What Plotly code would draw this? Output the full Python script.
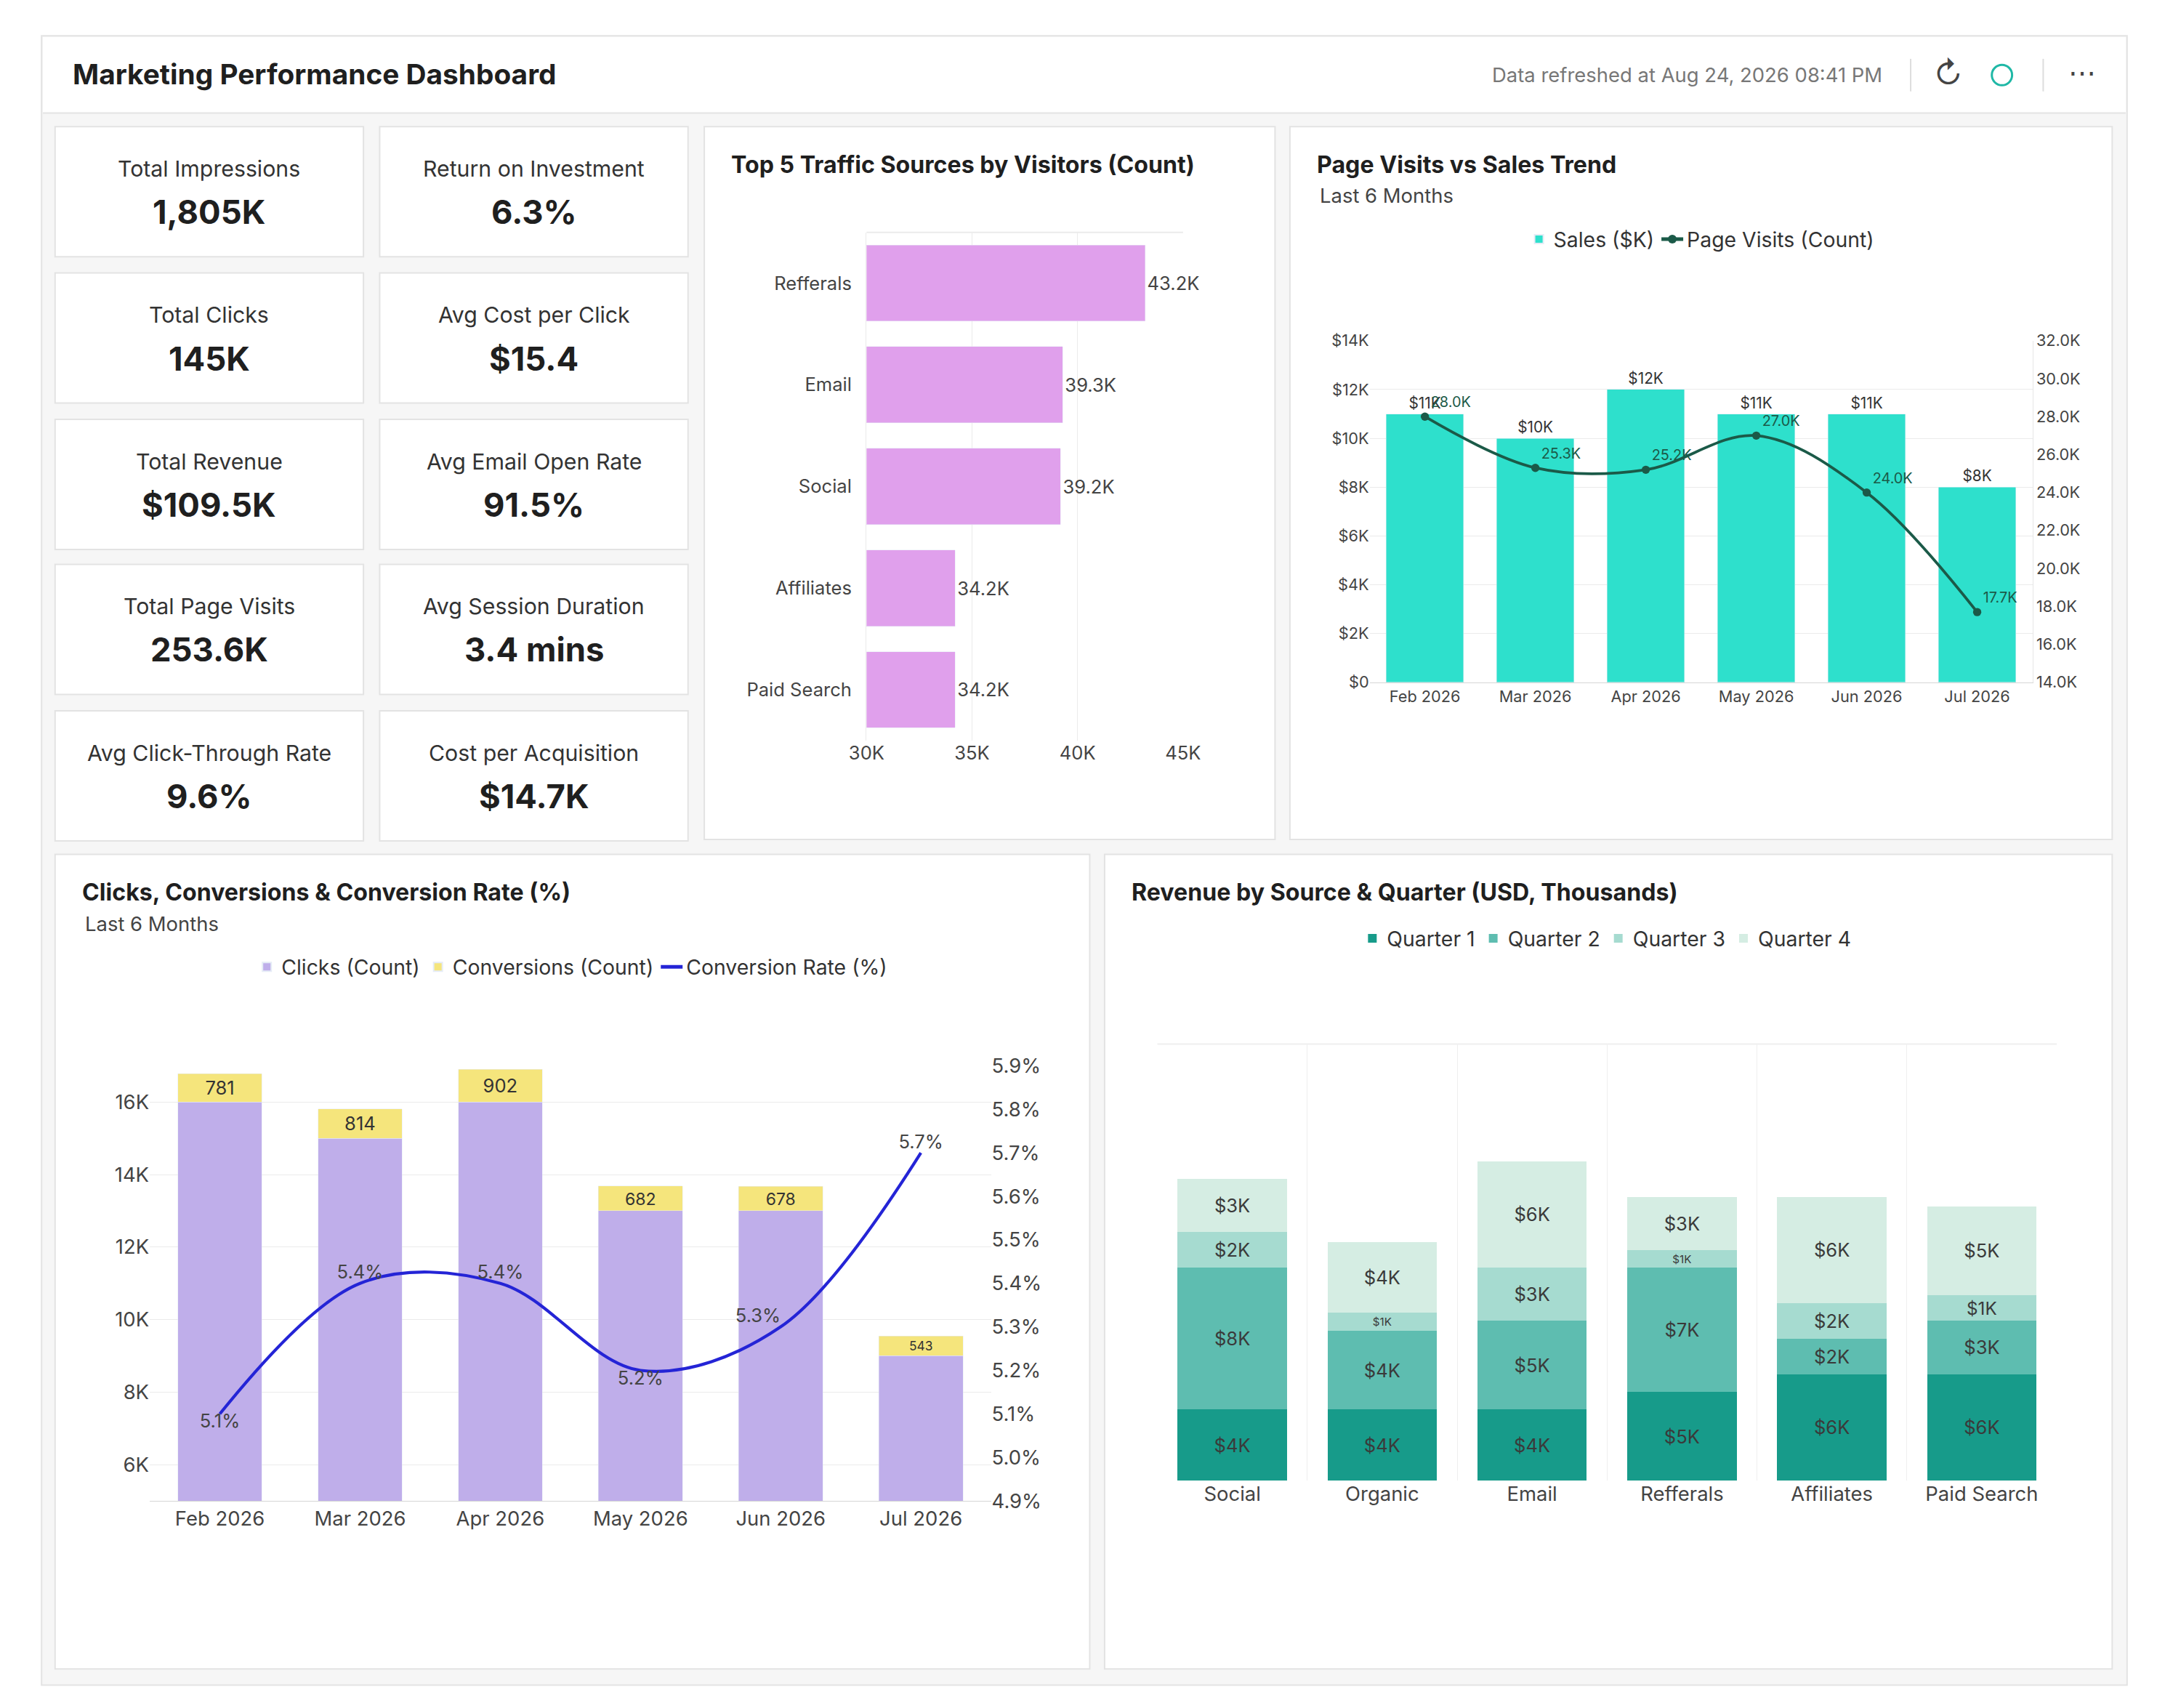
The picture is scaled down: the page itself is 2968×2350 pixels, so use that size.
import plotly.graph_objects as go

W, H = 2968, 2350
S = W / 1568.0
def X(px): return px / 1568.0
def Y(py): return 1 - py / 1242.0
def F(sz): return sz * S

FONT = "Inter"
DARK = "#1f1f1f"
GRAY = "#555555"

# ---------------- data ----------------
kpi_labels = ["Total Impressions", "Return on Investment", "Total Clicks", "Avg Cost per Click",
              "Total Revenue", "Avg Email Open Rate", "Total Page Visits", "Avg Session Duration",
              "Avg Click-Through Rate", "Cost per Acquisition"]
kpi_values = ["1,805K", "6.3%", "145K", "$15.4", "$109.5K", "91.5%", "253.6K", "3.4 mins", "9.6%", "$14.7K"]

traffic_sources = ["Refferals", "Email", "Social", "Affiliates", "Paid Search"]
traffic_visitors = [43.2, 39.3, 39.2, 34.2, 34.2]

months = ["Feb 2026", "Mar 2026", "Apr 2026", "May 2026", "Jun 2026", "Jul 2026"]
sales_k = [11, 10, 12, 11, 11, 8]
page_visits_k = [28.0, 25.3, 25.2, 27.0, 24.0, 17.7]

clicks_k = [16.0, 15.0, 16.0, 13.0, 13.0, 9.0]
clicks_labels = ["16K", "15K", "16K", "13K", "13K", ""]
conversions = [781, 814, 902, 682, 678, 543]
conv_rate = [5.1, 5.4, 5.4, 5.2, 5.3, 5.7]

rev_sources = ["Social", "Organic", "Email", "Refferals", "Affiliates", "Paid Search"]
rev_q1 = [4.0, 4.0, 4.0, 5.0, 6.0, 6.0]
rev_q2 = [8.0, 4.45, 5.0, 7.0, 2.0, 3.0]
rev_q3 = [2.0, 1.0, 3.0, 1.0, 2.0, 1.45]
rev_q4 = [3.0, 4.0, 6.0, 3.0, 6.0, 5.0]
quarters = ["Quarter 1", "Quarter 2", "Quarter 3", "Quarter 4"]
q_colors = ["#179b8a", "#5ebdb0", "#a6dbd0", "#d5ede3"]

fig = go.Figure()
shapes, ann = [], []

def card(x0, y0, x1, y1, fill="white"):
    shapes.append(dict(type="rect", xref="paper", yref="paper", x0=X(x0), x1=X(x1), y0=Y(y1), y1=Y(y0),
                       line=dict(color="#e3e3e3", width=2), fillcolor=fill, layer="below"))

def text(x, y, s, size, color=DARK, bold=False, xanchor="left", yanchor="middle"):
    ann.append(dict(xref="paper", yref="paper", x=X(x), y=Y(y), text=("<b>%s</b>" % s) if bold else s,
                    showarrow=False, xanchor=xanchor, yanchor=yanchor,
                    font=dict(family=FONT, size=F(size), color=color)))

# outer container + header
card(13, 13, 1555, 1230, fill="#f6f6f6")
shapes.append(dict(type="rect", xref="paper", yref="paper", x0=X(14), x1=X(1554), y0=Y(70), y1=Y(14),
                   line=dict(width=0), fillcolor="white", layer="below"))
shapes.append(dict(type="line", xref="paper", yref="paper", x0=X(14), x1=X(1554), y0=Y(70), y1=Y(70),
                   line=dict(color="#e3e3e3", width=2), layer="below"))
text(35, 41, "Marketing Performance Dashboard", 20.5, bold=True)
text(1375, 42, "Data refreshed at Aug 24, 2026 08:41 PM", 14.5, color="#777777", xanchor="right")
for xv in (1395, 1493):
    shapes.append(dict(type="line", xref="paper", yref="paper", x0=X(xv), x1=X(xv), y0=Y(30), y1=Y(54),
                       line=dict(color="#dddddd", width=2)))
text(1423, 41, "↻", 22, color="#444444", xanchor="center")
shapes.append(dict(type="circle", xref="paper", yref="paper", x0=X(1455), x1=X(1470), y0=Y(49.5), y1=Y(34.5),
                   line=dict(color="#1fb8a6", width=3)))
text(1522, 40, "⋯", 20, color="#444444", xanchor="center")

# KPI cards
cols = [(23, 251), (263, 491)]
rows = [80, 188, 296, 403, 511]
for i, (lab, val) in enumerate(zip(kpi_labels, kpi_values)):
    r, c = divmod(i, 2)
    x0, x1 = cols[c]
    y0 = rows[r]
    card(x0, y0, x1, y0 + 96)
    cx = (x0 + x1) / 2
    text(cx, y0 + 31, lab, 16, color="#333333", xanchor="center")
    text(cx, y0 + 63, val, 24, bold=True, xanchor="center")

# chart cards
card(503, 80, 925, 606)
card(936, 80, 1544, 606)
card(23, 617, 788, 1218)
card(799, 617, 1544, 1218)
text(522, 108, "Top 5 Traffic Sources by Visitors (Count)", 17, bold=True)
text(955, 108, "Page Visits vs Sales Trend", 17, bold=True)
text(957, 131, "Last 6 Months", 14.5, color="#444444")
text(42, 645, "Clicks, Conversions &amp; Conversion Rate (%)", 17, bold=True)
text(44, 668, "Last 6 Months", 14.5, color="#444444")
text(818, 645, "Revenue by Source &amp; Quarter (USD, Thousands)", 17, bold=True)

# ---------- Traffic sources ----------
fig.add_trace(go.Bar(y=traffic_sources, x=traffic_visitors, orientation="h", base=0,
                     marker=dict(color="#e0a0ec"), width=0.75,
                     text=[f"{v}K" for v in traffic_visitors], textposition="outside",
                     textfont=dict(family=FONT, size=F(13.5), color="#444444"),
                     cliponaxis=False, showlegend=False, xaxis="x", yaxis="y"))

# ---------- Page visits vs sales ----------
fig.add_trace(go.Bar(x=months, y=sales_k, name="Sales ($K)", marker=dict(color="#2ee0cc"), width=0.7,
                     text=[f"${v}K" for v in sales_k], textposition="outside", cliponaxis=False,
                     textfont=dict(family=FONT, size=F(11), color="#333333"),
                     xaxis="x2", yaxis="y2", legend="legend"))
fig.add_trace(go.Scatter(x=months, y=page_visits_k, name="Page Visits (Count)", mode="lines+markers+text",
                         line=dict(color="#1b5a48", width=F(2), shape="spline"),
                         marker=dict(size=F(6), color="#1b5a48"),
                         text=[f"{v:.1f}K" for v in page_visits_k], textposition="top right",
                         textfont=dict(family=FONT, size=F(10.5), color="#1b5a48"),
                         xaxis="x2", yaxis="y3", legend="legend"))

# ---------- Clicks / conversions ----------
fig.add_trace(go.Bar(x=months, y=clicks_k, name="Clicks (Count)", marker=dict(color="#bfaeea"), width=0.6,
                     text=clicks_labels, textposition="inside", insidetextanchor="start",
                     textfont=dict(family=FONT, size=F(13.5), color="#333333"),
                     xaxis="x3", yaxis="y4", legend="legend2"))
fig.add_trace(go.Bar(x=months, y=[c / 1000 for c in conversions], name="Conversions (Count)",
                     marker=dict(color="#f5e57c"), width=0.6,
                     text=[str(c) for c in conversions], textposition="inside", insidetextanchor="middle",
                     textfont=dict(family=FONT, size=F(13.5), color="#333333"),
                     xaxis="x3", yaxis="y4", legend="legend2"))
fig.add_trace(go.Scatter(x=months, y=conv_rate, name="Conversion Rate (%)", mode="lines+text",
                         line=dict(color="#2424d6", width=F(2.2), shape="spline"),
                         text=[f"{v}%" for v in conv_rate],
                         textposition=["bottom center", "top center", "top center", "bottom center",
                                       "top left", "top center"],
                         textfont=dict(family=FONT, size=F(13.5), color="#444444"),
                         cliponaxis=False, xaxis="x3", yaxis="y5", legend="legend2"))

# ---------- Revenue stacked ----------
for qname, col, vals in zip(quarters, q_colors, [rev_q1, rev_q2, rev_q3, rev_q4]):
    fig.add_trace(go.Bar(x=rev_sources, y=vals, name=qname, marker=dict(color=col, line=dict(width=0)),
                         width=0.73, text=[f"${round(v)}K" for v in vals], textposition="inside",
                         insidetextanchor="middle", textangle=0,
                         textfont=dict(family=FONT, size=F(13.5), color="#3a3a3a"),
                         xaxis="x4", yaxis="y6", legend="legend3"))

tick = lambda s, c="#444444": dict(family=FONT, size=F(s), color=c)
grid = "#ebebeb"

def leg(xc, yc):
    return dict(x=X(xc), y=Y(yc), xanchor="center", yanchor="middle", orientation="h",
                font=dict(family=FONT, size=F(15), color="#333333"), bgcolor="rgba(0,0,0,0)",
                itemsizing="constant", traceorder="normal")

fig.update_layout(
    width=W, height=H, autosize=False, margin=dict(l=0, r=0, t=0, b=0),
    paper_bgcolor="white", plot_bgcolor="rgba(0,0,0,0)", barmode="stack",
    font=dict(family=FONT), shapes=shapes, annotations=ann,
    # traffic
    xaxis=dict(domain=[X(623), X(857)], range=[30, 45], tickvals=[30, 35, 40, 45],
               ticktext=["30K", "35K", "40K", "45K"], showgrid=True, gridcolor=grid, zeroline=False,
               tickfont=tick(13.5), anchor="y", showline=False, ticklen=0),
    yaxis=dict(domain=[Y(533), Y(158)], autorange="reversed", tickfont=tick(13.5), anchor="x",
               showline=True, linecolor=grid, ticks="", ticklen=0, ticksuffix="  "),
    # page visits
    xaxis2=dict(domain=[X(995), X(1485)], anchor="y2", tickfont=tick(11.5), showgrid=False,
                showline=True, linecolor="#d6d6d6", ticks=""),
    yaxis2=dict(domain=[Y(490), Y(238)], range=[0, 14], dtick=2, tickprefix="$", ticksuffix="K",
                tickfont=tick(11.5), gridcolor=grid, zeroline=False, anchor="x2",
                tickvals=[0, 2, 4, 6, 8, 10, 12, 14],
                ticktext=["$0", "$2K", "$4K", "$6K", "$8K", "$10K", "$12K", "$14K"]),
    yaxis3=dict(overlaying="y2", side="right", range=[14, 32], dtick=2, tickformat=".1f", ticksuffix="K",
                tickfont=tick(11.5), showgrid=False, zeroline=False, anchor="x2",
                showline=True, linecolor="#e6e6e6"),
    legend=leg(1240, 163),
    # clicks
    xaxis3=dict(domain=[X(93), X(715)], anchor="y4", tickfont=tick(14.5), showgrid=False,
                showline=True, linecolor="#d6d6d6", ticks=""),
    yaxis4=dict(domain=[Y(1094), Y(773)], range=[5, 17], dtick=2, ticksuffix="K",
                tickfont=tick(14.5), gridcolor=grid, zeroline=False, anchor="x3"),
    yaxis5=dict(overlaying="y4", side="right", range=[4.9, 5.9], dtick=0.1, tickformat=".1f",
                ticksuffix="%", tickfont=tick(14.5), showgrid=False, zeroline=False, anchor="x3"),
    legend2=leg(405, 700),
    # revenue
    xaxis4=dict(domain=[X(838), X(1503)], anchor="y6", tickfont=tick(14.5), showgrid=True,
                gridcolor="#efefef", tickson="boundaries", ticks="", showline=False),
    yaxis6=dict(domain=[Y(1079), Y(757)], range=[0, 24.6], visible=False, anchor="x4"),
    legend3=leg(1170, 679),
)
# top border line of revenue grid
fig.add_shape(type="line", xref="paper", yref="paper", x0=X(838), x1=X(1503), y0=Y(757), y1=Y(757),
              line=dict(color="#efefef", width=2))
fig.add_shape(type="line", xref="paper", yref="paper", x0=X(623), x1=X(857), y0=Y(158), y1=Y(158),
              line=dict(color=grid, width=2))

fig.write_html("out.html")
